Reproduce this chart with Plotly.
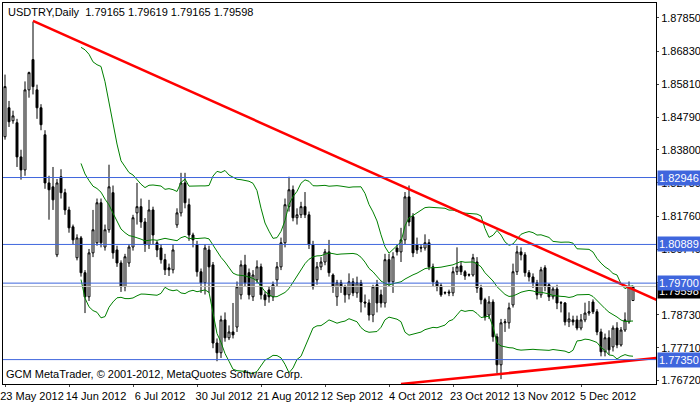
import numpy as np
import pandas as pd
import plotly.graph_objects as go

# USDTRY daily bars (bar index 0 = 23 May 2012)
opens = [1.8420, 1.8509, 1.8469, 1.8463, 1.8358, 1.8318, 1.8564, 1.8657, 1.8564, 1.8509,
         1.8426, 1.8278, 1.8266, 1.8057, 1.8297, 1.8248, 1.8195, 1.8143, 1.8048, 1.8109,
         1.8002, 1.7928, 1.8063, 1.8094, 1.8217, 1.8081, 1.8134, 1.8248, 1.8072, 1.8032,
         1.7959, 1.8032, 1.8081, 1.8186, 1.8205, 1.8158, 1.8088, 1.8195, 1.8094, 1.8078,
         1.8042, 1.8017, 1.8011, 1.8149, 1.8186, 1.8278, 1.8211, 1.8118, 1.8088, 1.8005,
         1.7971, 1.8072, 1.8026, 1.7786, 1.7756, 1.7857, 1.7802, 1.7820, 1.7835, 1.7934,
         1.8026, 1.8002, 1.7928, 1.7980, 1.8020, 1.7934, 1.7949, 1.7928, 1.7980, 1.8020,
         1.8094, 1.8205, 1.8257, 1.8171, 1.8180, 1.8205, 1.8180, 1.8088, 1.7980, 1.8020,
         1.8035, 1.8066, 1.7995, 1.7928, 1.7971, 1.7959, 1.7934, 1.7974, 1.7940, 1.7971,
         1.7912, 1.7909, 1.7872, 1.7965, 1.7934, 1.7909, 1.8042, 1.7974, 1.8078, 1.8066,
         1.8103, 1.8235, 1.8174, 1.8088, 1.8080, 1.8078, 1.8094, 1.8020, 1.7974, 1.7962,
         1.7941, 1.7943, 1.7940, 1.8005, 1.8023, 1.8005, 1.7996, 1.7995, 1.8035, 1.7955,
         1.7919, 1.7872, 1.7912, 1.7805, 1.7719, 1.7848, 1.7848, 1.7903, 1.8005, 1.8066,
         1.8057, 1.8002, 1.7989, 1.7971, 1.7934, 1.8017, 1.7965, 1.7928, 1.7952, 1.7910,
         1.7909, 1.7851, 1.7857, 1.7857, 1.7832, 1.7857, 1.7878, 1.7912, 1.7882, 1.7820,
         1.7759, 1.7802, 1.7774, 1.7832, 1.7780, 1.7826, 1.7851, 1.79165]
highs = [1.8611, 1.8530, 1.8500, 1.8475, 1.8380, 1.8590, 1.8620, 1.8773, 1.8580, 1.8520,
         1.8440, 1.8300, 1.8327, 1.8290, 1.8320, 1.8260, 1.8205, 1.8150, 1.8120, 1.8115,
         1.8010, 1.8075, 1.8195, 1.8230, 1.8230, 1.8150, 1.8334, 1.8270, 1.8085, 1.8040,
         1.8060, 1.8090, 1.8180, 1.8278, 1.8230, 1.8170, 1.8226, 1.8205, 1.8100, 1.8090,
         1.8060, 1.8030, 1.8090, 1.8200, 1.8309, 1.8309, 1.8230, 1.8125, 1.8100, 1.8015,
         1.8090, 1.8085, 1.8035, 1.7800, 1.7870, 1.7880, 1.7840, 1.7909, 1.7975, 1.8040,
         1.8057, 1.8015, 1.8010, 1.8040, 1.8030, 1.7945, 1.7960, 1.7975, 1.8035, 1.8110,
         1.8230, 1.8297, 1.8270, 1.8200, 1.8220, 1.8250, 1.8190, 1.8100, 1.8035, 1.8050,
         1.8075, 1.8103, 1.8000, 1.7980, 1.7980, 1.7965, 1.8000, 1.7985, 1.7990, 1.7980,
         1.7935, 1.7920, 1.7965, 1.7980, 1.7950, 1.8060, 1.8060, 1.8065, 1.8090, 1.8140,
         1.8250, 1.8270, 1.8185, 1.8110, 1.8090, 1.8120, 1.8105, 1.8030, 1.7980, 1.7970,
         1.7945, 1.7950, 1.8020, 1.8080, 1.8035, 1.8010, 1.8000, 1.8060, 1.8050, 1.7965,
         1.7925, 1.7930, 1.7920, 1.7815, 1.7860, 1.7860, 1.7910, 1.8030, 1.8085, 1.8080,
         1.8065, 1.8010, 1.8000, 1.7980, 1.8020, 1.8025, 1.7970, 1.7960, 1.7965, 1.7915,
         1.7912, 1.7880, 1.7870, 1.7870, 1.7875, 1.7910, 1.7915, 1.7920, 1.7890, 1.7830,
         1.7815, 1.7825, 1.7840, 1.7850, 1.7835, 1.7880, 1.7975, 1.79619]
lows = [1.8411, 1.8450, 1.8460, 1.8327, 1.8288, 1.8300, 1.8540, 1.8550, 1.8475, 1.8440,
        1.8260, 1.8165, 1.8195, 1.8050, 1.8230, 1.8180, 1.8125, 1.8090, 1.8040, 1.7990,
        1.7878, 1.7915, 1.8050, 1.8085, 1.8080, 1.8070, 1.8125, 1.8045, 1.8020, 1.7943,
        1.7945, 1.8020, 1.8070, 1.8150, 1.8140, 1.8066, 1.8075, 1.8090, 1.8050, 1.8030,
        1.7995, 1.7992, 1.8000, 1.8140, 1.8175, 1.8200, 1.8100, 1.8080, 1.7990, 1.7940,
        1.7935, 1.7940, 1.7770, 1.7730, 1.7740, 1.7790, 1.7795, 1.7800, 1.7820, 1.7920,
        1.7960, 1.7920, 1.7915, 1.7970, 1.7920, 1.7900, 1.7910, 1.7915, 1.7960, 1.8010,
        1.8080, 1.8190, 1.8160, 1.8150, 1.8170, 1.8170, 1.8075, 1.7950, 1.7965, 1.8010,
        1.8025, 1.7990, 1.7940, 1.7900, 1.7940, 1.7910, 1.7920, 1.7930, 1.7925, 1.7880,
        1.7895, 1.7855, 1.7850, 1.7880, 1.7895, 1.7895, 1.7960, 1.7940, 1.8055, 1.8035,
        1.8090, 1.8145, 1.8050, 1.8060, 1.8065, 1.8070, 1.8010, 1.7960, 1.7945, 1.7928,
        1.7935, 1.7930, 1.7930, 1.7995, 1.7995, 1.7980, 1.7990, 1.7990, 1.7940, 1.7905,
        1.7855, 1.7860, 1.7790, 1.7694, 1.7675, 1.7820, 1.7830, 1.7895, 1.7995, 1.8040,
        1.7990, 1.7975, 1.7955, 1.7920, 1.7925, 1.7945, 1.7915, 1.7920, 1.7890, 1.7880,
        1.7840, 1.7835, 1.7840, 1.7825, 1.7825, 1.7850, 1.7870, 1.7875, 1.7810, 1.7745,
        1.7745, 1.7750, 1.7760, 1.7770, 1.7775, 1.7820, 1.7845, 1.79165]
closes = [1.8574, 1.8466, 1.8484, 1.8358, 1.8318, 1.8564, 1.8617, 1.8574, 1.8509, 1.8457,
          1.8278, 1.8257, 1.8226, 1.8278, 1.8248, 1.8195, 1.8140, 1.8103, 1.8109, 1.8002,
          1.7928, 1.8063, 1.8134, 1.8217, 1.8094, 1.8134, 1.8266, 1.8063, 1.8032, 1.7959,
          1.8051, 1.8081, 1.8171, 1.8205, 1.8158, 1.8088, 1.8195, 1.8118, 1.8072, 1.8042,
          1.8011, 1.8011, 1.8072, 1.8186, 1.8278, 1.8217, 1.8118, 1.8103, 1.8005, 1.7971,
          1.8078, 1.8020, 1.7786, 1.7756, 1.7857, 1.7802, 1.7820, 1.7811, 1.7959, 1.8026,
          1.7971, 1.7934, 1.7995, 1.8020, 1.7934, 1.7919, 1.7928, 1.7965, 1.8020, 1.8094,
          1.8211, 1.8257, 1.8171, 1.8180, 1.8205, 1.8180, 1.8088, 1.7959, 1.8020, 1.8035,
          1.8066, 1.8002, 1.7959, 1.7971, 1.7959, 1.7934, 1.7974, 1.7940, 1.7971, 1.7912,
          1.7909, 1.7872, 1.7959, 1.7909, 1.7909, 1.8042, 1.7974, 1.8051, 1.8066, 1.8103,
          1.8235, 1.8158, 1.8063, 1.8072, 1.8078, 1.8094, 1.8020, 1.7974, 1.7959, 1.7934,
          1.7940, 1.7940, 1.8005, 1.8020, 1.8005, 1.7992, 1.7995, 1.8048, 1.7955, 1.7919,
          1.7866, 1.7912, 1.7805, 1.7719, 1.7848, 1.7851, 1.7894, 1.8005, 1.8066, 1.8057,
          1.8002, 1.7989, 1.7971, 1.7934, 1.8011, 1.7959, 1.7928, 1.7952, 1.7909, 1.7909,
          1.7851, 1.7860, 1.7851, 1.7832, 1.7857, 1.7878, 1.7882, 1.7882, 1.7820, 1.7759,
          1.7802, 1.7765, 1.7832, 1.7780, 1.7826, 1.7857, 1.7959, 1.79598]

tick_pos = [0, 16, 32, 48, 64, 80, 96, 112, 128, 144]
tick_text = ["23 May 2012", "14 Jun 2012", "6 Jul 2012", "30 Jul 2012", "21 Aug 2012",
             "12 Sep 2012", "4 Oct 2012", "23 Oct 2012", "13 Nov 2012", "5 Dec 2012"]
price_ticks = [1.87850, 1.86830, 1.85810, 1.84790, 1.83800, 1.82780, 1.81760,
               1.80740, 1.79720, 1.78730, 1.77710, 1.76720]

levels = [1.82946, 1.80889, 1.79700, 1.77350]
bid = 1.79598

# trend lines: (bar index, price) end points
res_x, res_y = [7, 163], [1.8776, 1.7918]
sup_x, sup_y = [99, 163], [1.7660, 1.7740]

x = list(range(len(closes)))
c = pd.Series(closes)
mid = c.rolling(20).mean()
sd = c.rolling(20).std(ddof=0)
upper, lower = mid + 2 * sd, mid - 2 * sd

font = dict(family="Liberation Sans", size=11, color="black")
label_font = dict(family="Liberation Sans", size=11, color="white")
fig = go.Figure()
for band in (upper, mid, lower):
    fig.add_trace(go.Scatter(x=x, y=band, mode="lines", line=dict(color="green", width=1),
                             hoverinfo="skip"))
fig.add_trace(go.Candlestick(
    x=x, open=opens, high=highs, low=lows, close=closes, whiskerwidth=0,
    increasing=dict(line=dict(color="black", width=1), fillcolor="white"),
    decreasing=dict(line=dict(color="black", width=1), fillcolor="black"),
))
for tx, ty in ((res_x, res_y), (sup_x, sup_y)):
    fig.add_trace(go.Scatter(x=tx, y=ty, mode="lines", line=dict(color="red", width=2.5)))

fig.add_hline(y=bid, line=dict(color="#c0c0c0", width=1))
for lv in levels:
    fig.add_hline(y=lv, line=dict(color="#3f66dd", width=1))

fig.add_annotation(xref="paper", yref="y", x=1, y=bid, xanchor="left", text=f"{bid:.5f}",
                   showarrow=False, bgcolor="black", font=label_font,
                   borderpad=1, xshift=1, yshift=-5)
for lv in levels:
    fig.add_annotation(xref="paper", yref="y", x=1, y=lv, xanchor="left", text=f"{lv:.5f}",
                       showarrow=False, bgcolor="#3f66dd", font=label_font,
                       borderpad=1, xshift=1)

fig.add_annotation(xref="paper", yref="paper", x=0.005, y=0.998, xanchor="left", yanchor="top",
                   text="USDTRY,Daily  1.79165 1.79619 1.79165 1.79598", showarrow=False, font=font)
fig.add_annotation(xref="paper", yref="paper", x=0.002, y=0.005, xanchor="left", yanchor="bottom",
                   text="GCM MetaTrader, © 2001-2012, MetaQuotes Software Corp.", showarrow=False,
                   font=font)

fig.update_layout(
    width=700, height=402, showlegend=False,
    paper_bgcolor="white", plot_bgcolor="white",
    margin=dict(l=3, r=44, t=3, b=18),
    font=font,
    xaxis=dict(range=[-0.5, 162.75], tickvals=tick_pos, ticktext=tick_text, showgrid=False,
               rangeslider=dict(visible=False), ticks="outside", ticklen=2, zeroline=False,
               showline=True, linecolor="black", mirror=True, tickfont=font,
               tickangle=0, ticklabelshift=27, automargin=False),
    yaxis=dict(range=[1.7660, 1.8831], side="right", tickvals=price_ticks,
               ticktext=[f"{t:.5f}" for t in price_ticks], showgrid=False, ticks="outside",
               ticklen=2, zeroline=False, showline=True, linecolor="black", mirror=True,
               tickfont=font, automargin=False),
)

fig.write_html("out.html", config={"displayModeBar": False},
               post_script="document.body.style.margin='0';")
